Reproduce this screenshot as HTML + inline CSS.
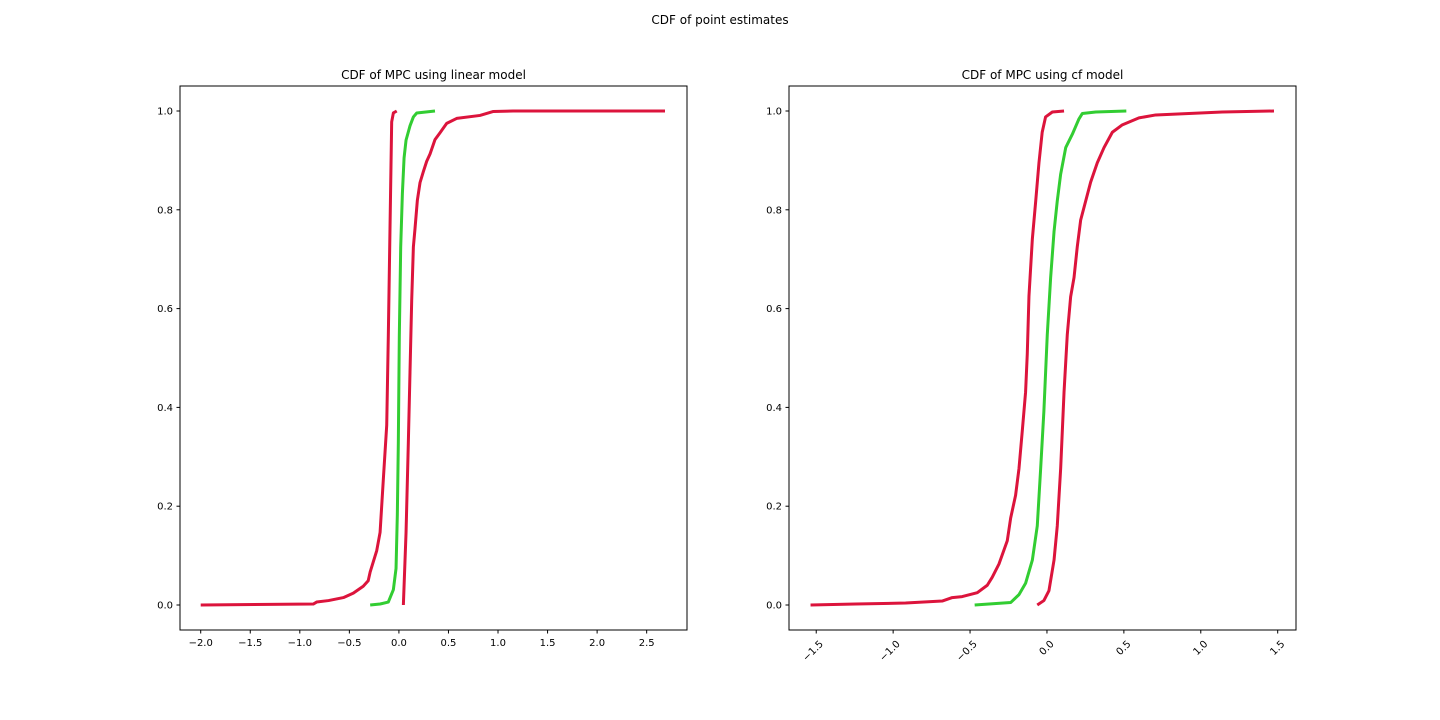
<!DOCTYPE html>
<html><head><meta charset="utf-8"><style>
html,body{margin:0;padding:0;background:#fff;}
svg{display:block;font-family:"DejaVu Sans","Liberation Sans",sans-serif;}
</style></head><body>
<svg id="fig" width="1440" height="720" viewBox="0 0 1440 720">
<rect width="1440" height="720" fill="#fff"/>
<text x="720" y="24" text-anchor="middle" font-size="12" fill="#000">CDF of point estimates</text>
</svg>
<script>
// Left panel (linear model) data
const leftXTicks = [-2.0,-1.5,-1.0,-0.5,0.0,0.5,1.0,1.5,2.0,2.5];
const yTicks = [0.0,0.2,0.4,0.6,0.8,1.0];
const linRedAX = [-2.0,-0.864,-0.83,-0.71,-0.56,-0.46,-0.36,-0.31,-0.29,-0.224,-0.19,-0.157,-0.123,-0.107,-0.09,-0.073,-0.056,-0.022];
const linRedAY = [0,0.002,0.006,0.009,0.015,0.024,0.038,0.049,0.067,0.11,0.147,0.255,0.364,0.544,0.761,0.978,0.996,1.0];
const linGreenX = [-0.29,-0.19,-0.107,-0.056,-0.029,-0.016,-0.006,0.004,0.018,0.035,0.052,0.072,0.112,0.146,0.18,0.364];
const linGreenY = [0,0.002,0.006,0.031,0.074,0.183,0.327,0.544,0.725,0.833,0.905,0.941,0.970,0.988,0.996,1.0];
const linRedBX = [0.045,0.072,0.095,0.112,0.129,0.146,0.162,0.186,0.213,0.246,0.28,0.314,0.364,0.415,0.482,0.583,0.818,0.953,1.154,2.685];
const linRedBY = [0,0.147,0.328,0.472,0.617,0.725,0.761,0.819,0.855,0.877,0.898,0.913,0.942,0.956,0.975,0.985,0.991,0.999,1.0,1.0];
// Right panel (cf model) data
const rightXTicks = [-1.5,-1.0,-0.5,0.0,0.5,1.0,1.5];
const cfRedAX = [-1.537,-1.244,-0.919,-0.681,-0.616,-0.551,-0.453,-0.388,-0.356,-0.312,-0.258,-0.236,-0.204,-0.182,-0.160,-0.139,-0.128,-0.117,-0.095,-0.073,-0.052,-0.031,-0.009,0.035,0.111];
const cfRedAY = [0,0.002,0.004,0.008,0.015,0.017,0.025,0.040,0.056,0.083,0.130,0.176,0.222,0.276,0.354,0.431,0.508,0.625,0.741,0.818,0.895,0.957,0.988,0.998,1.0];
const cfGreenX = [-0.47,-0.236,-0.182,-0.139,-0.095,-0.063,-0.041,-0.02,0.002,0.024,0.046,0.067,0.089,0.122,0.165,0.208,0.230,0.317,0.516];
const cfGreenY = [0,0.005,0.021,0.044,0.091,0.160,0.276,0.392,0.547,0.663,0.756,0.818,0.872,0.926,0.953,0.984,0.995,0.998,1.0];
const cfRedBX = [-0.063,-0.02,0.013,0.046,0.067,0.089,0.111,0.132,0.154,0.176,0.197,0.219,0.252,0.284,0.327,0.371,0.425,0.490,0.598,0.707,0.923,1.140,1.476];
const cfRedBY = [0,0.009,0.029,0.091,0.160,0.276,0.431,0.547,0.624,0.663,0.725,0.779,0.818,0.856,0.895,0.926,0.957,0.972,0.986,0.992,0.995,0.998,1.0];

const NS = "http://www.w3.org/2000/svg";
const fig = document.getElementById('fig');
function mk(tag, attrs, parent){
  const e = document.createElementNS(NS, tag);
  for (const k in attrs) e.setAttribute(k, attrs[k]);
  (parent||fig).appendChild(e);
  return e;
}
function fmt(v){ return (v<0?'\u2212':'') + Math.abs(v).toFixed(1); }

function panel(name, box, xmin, xmax, xticks, rotate, title, series){
  const g = mk('g', {});
  
  
  const ymin = -0.0506, ymax = 1.0506;
  const sx = v => box.x + (v - xmin) / (xmax - xmin) * box.w;
  const sy = v => box.y + box.h - (v - ymin) / (ymax - ymin) * box.h;
  const t = mk('text', {x: box.x + box.w/2, y: box.y - 7, 'text-anchor':'middle', 'font-size':12, fill:'#000'}, g);
  t.textContent = title;
  
  
  series.forEach(s => {
    const d = s.x.map((v,i)=> (i?'L':'M') + sx(v).toFixed(2) + ' ' + sy(s.y[i]).toFixed(2)).join(' ');
    const p = mk('path', {d:d, fill:'none', stroke:s.c, 'stroke-width':3, 'stroke-linejoin':'round'}, g);
    
    
  });
  const fr = mk('rect', {x:box.x, y:box.y, width:box.w, height:box.h, fill:'none', stroke:'#000', 'stroke-width':1}, g);
  
  
  xticks.forEach(v => {
    const x = sx(v), yb = box.y + box.h;
    mk('line', {x1:x, x2:x, y1:yb, y2:yb+3.5, stroke:'#000', 'stroke-width':1}, g);
    let lbl;
    if (rotate) {
      lbl = mk('text', {x:x+3, y:yb+10, 'text-anchor':'end', 'font-size':10, fill:'#000',
        transform:'rotate(-45 '+(x+3)+' '+(yb+10)+')', 'dominant-baseline':'hanging'}, g);
    } else {
      lbl = mk('text', {x:x, y:yb+16, 'text-anchor':'middle', 'font-size':10, fill:'#000'}, g);
    }
    lbl.textContent = fmt(v);
    
    
  });
  yTicks.forEach(v => {
    const y = sy(v);
    mk('line', {x1:box.x-3.5, x2:box.x, y1:y, y2:y, stroke:'#000', 'stroke-width':1}, g);
    const lbl = mk('text', {x:box.x-7, y:y+3.5, 'text-anchor':'end', 'font-size':10, fill:'#000'}, g);
    lbl.textContent = fmt(v);
    
    
  });
}
const RED = '#dc143c', GREEN = '#32cd32';
panel('linear-model-panel', {x:180,y:86,w:507,h:544}, -2.209, 2.907, leftXTicks, false,
  'CDF of MPC using linear model',
  [{x:linRedAX,y:linRedAY,c:RED,n:'linear-red-lower-cdf'},
   {x:linGreenX,y:linGreenY,c:GREEN,n:'linear-green-cdf'},
   {x:linRedBX,y:linRedBY,c:RED,n:'linear-red-upper-cdf'}]);
panel('cf-model-panel', {x:789,y:86,w:507,h:544}, -1.677, 1.619, rightXTicks, true,
  'CDF of MPC using cf model',
  [{x:cfRedAX,y:cfRedAY,c:RED,n:'cf-red-lower-cdf'},
   {x:cfGreenX,y:cfGreenY,c:GREEN,n:'cf-green-cdf'},
   {x:cfRedBX,y:cfRedBY,c:RED,n:'cf-red-upper-cdf'}]);
</script>
</body></html>
